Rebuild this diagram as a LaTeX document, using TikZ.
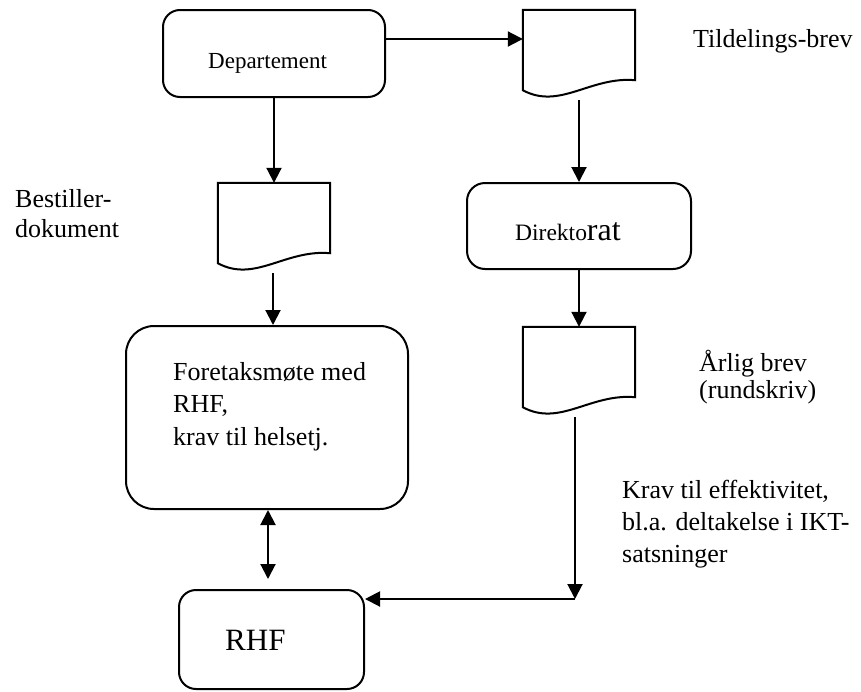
\documentclass[tikz,border=0pt]{standalone}
\usepackage{fontspec}
\setmainfont{Liberation Serif}
\usetikzlibrary{arrows.meta,calc}
\tikzset{
  procbox/.style={draw, line width=2pt, inner sep=0pt},
  docnode/.style={inner sep=0pt, minimum width=112pt, minimum height=87pt},
  flow/.style={line width=2pt, -{Triangle[length=15pt,width=15pt]}},
  both/.style={line width=2pt, {Triangle[length=15pt,width=15pt]}-{Triangle[length=15pt,width=15pt]}},
  lbl/.style={inner sep=0pt, anchor=base west, align=left, font=\fontsize{26}{30}\selectfont},
}
% document symbol: flat top, wavy bottom edge
\newcommand\docsheet[1]{%
  \draw[line width=2pt, line join=miter] (#1.north west) -- (#1.north east)
    -- ([yshift=17pt]#1.south east)
    .. controls ([xshift=-45pt,yshift=21pt]#1.south east) and ([xshift=37pt,yshift=-13pt]#1.south west)
    .. ([yshift=7pt]#1.south west) -- cycle;}
\begin{document}
\begin{tikzpicture}[x=1pt, y=-1pt]
\useasboundingbox (0,0) rectangle (861,691);

% process boxes
\node[procbox, rounded corners=17pt, minimum width=222pt, minimum height=87pt] (dep) at (274,53.5) {};
\node[procbox, rounded corners=18pt, minimum width=224pt, minimum height=86pt] (dir) at (579,226) {};
\node[procbox, rounded corners=28pt, minimum width=282pt, minimum height=183pt] (fore) at (267,417.5) {};
\node[procbox, rounded corners=17pt, minimum width=185pt, minimum height=99pt] (rhf) at (271.5,639.5) {};

% box texts (multi-line nodes are placed by the baseline of their last line)
\node[lbl, font=\fontsize{23}{27}\selectfont] (deptxt) at (208,68) {Departement};
\node[lbl, font=\fontsize{23.5}{28}\selectfont] (dirtxt) at (515,240) {Direkto{\fontsize{32}{36}\selectfont rat}};
\node[lbl, font=\fontsize{26}{32.5}\selectfont] (foretxt) at (173,445) {Foretaksmøte med\\RHF,\\krav til helsetj.};
\node[lbl, font=\fontsize{31}{36}\selectfont] (rhftxt) at (225,650) {RHF};

% documents
\node[docnode] (doc1) at (579,53.5) {};
\node[docnode] (doc2) at (274,226.5) {};
\node[docnode] (doc3) at (579,370.5) {};
\docsheet{doc1}
\docsheet{doc2}
\docsheet{doc3}

% side labels
\node[lbl] (tild) at (693,47) {Tildelings-brev};
\node[lbl] (best) at (15,237) {Bestiller-\\dokument};
\node[lbl, font=\fontsize{26}{27}\selectfont] (arlig) at (699,398) {Årlig brev\\(rundskriv)};
\node[lbl, font=\fontsize{26}{32}\selectfont] (krav) at (622,562) {Krav til effektivitet,\\bl.a. deltakelse i IKT-\\satsninger};

% connectors
\coordinate (bend) at (575,599);
\draw[flow] ([yshift=14.5pt]dep.east) -- ([yshift=14.5pt]dep.east -| doc1.west);
\draw[flow] (dep.south) -- (doc2.north);
\draw[flow] ([yshift=-3pt]doc1.south) -- (dir.north);
\draw[flow] (dir.south) -- (doc3.north);
\draw[flow] ([xshift=-1pt,yshift=-3pt]doc2.south) -- ([xshift=-1pt]doc2.south |- fore.north);
\draw[flow] ([xshift=-4pt,yshift=-3pt]doc3.south) -- (bend);
\draw[flow] (bend) -- (bend -| rhf.east);
\draw[both, shorten >=10pt] ([xshift=1pt]fore.south) -- ([xshift=1pt]fore.south |- rhf.north);
\end{tikzpicture}
\end{document}
